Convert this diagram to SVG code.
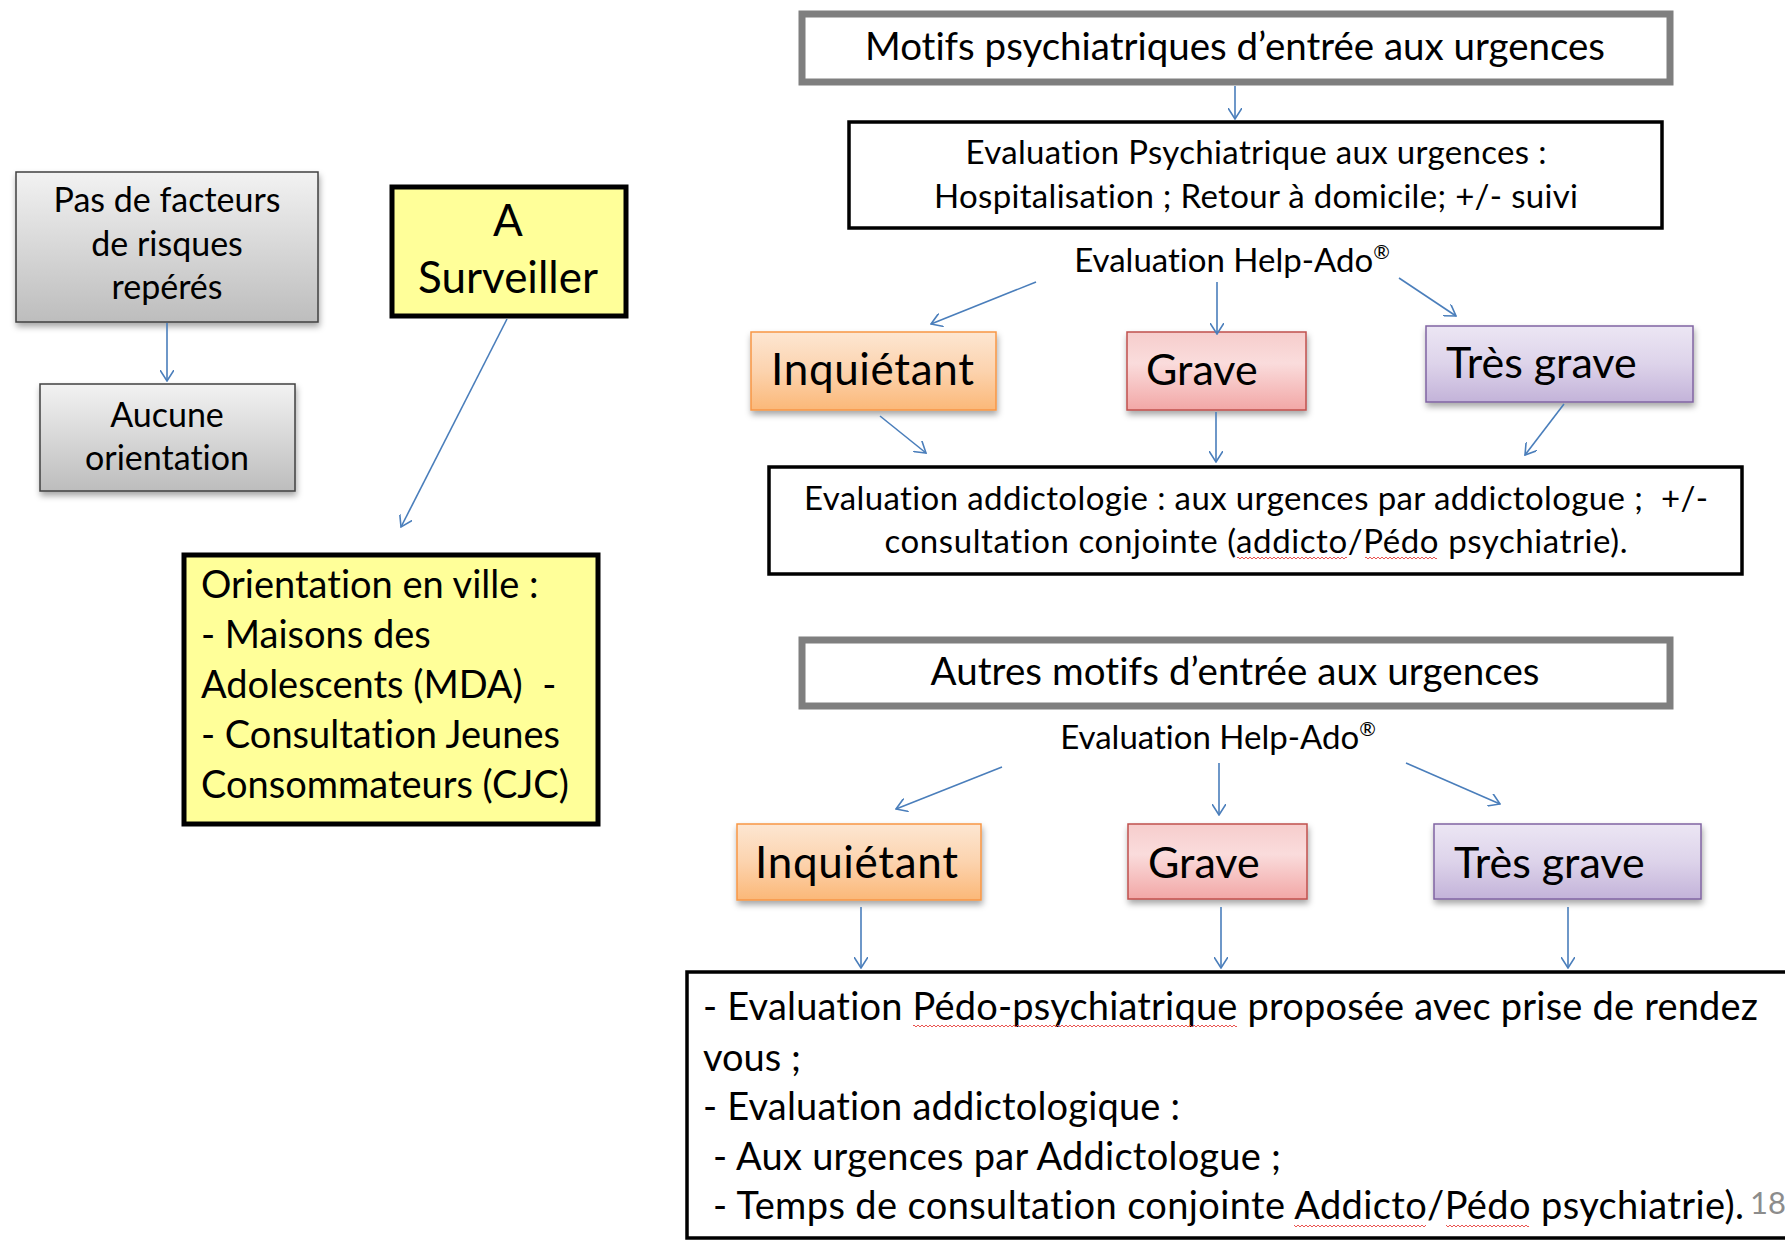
<svg xmlns="http://www.w3.org/2000/svg" width="1785" height="1241" viewBox="0 0 1785 1241">
<defs>
<style>
text{font-family:Lato,"Liberation Sans",sans-serif;fill:#000;font-variant-ligatures:none}
.c{text-anchor:middle}
.conn line{stroke:#4a7ebb;stroke-width:1.6;fill:none;marker-end:url(#arr)}
.blk{fill:#fff;stroke:#000;stroke-width:3.5}
.gry{fill:#fff;stroke:#7f7f7f;stroke-width:7}
.yel{fill:#ffff99;stroke:#000;stroke-width:5}
.wv{fill:url(#wave)}
</style>
<pattern id="wave" x="0" y="0" width="4" height="4" patternUnits="userSpaceOnUse">
<path d="M0,3 L2,1 L4,3" fill="none" stroke="#e8413c" stroke-width="0.9"/>
</pattern>
<marker id="arr" viewBox="0 0 12 14" markerWidth="12" markerHeight="14" refX="11" refY="7" orient="auto" markerUnits="userSpaceOnUse">
<path d="M0,0 L11,7 L0,14" fill="none" stroke="#4a7ebb" stroke-width="1.6"/>
</marker>
<linearGradient id="gGray" x1="0" y1="0" x2="0" y2="1"><stop offset="0" stop-color="#f2f2f2"/><stop offset="1" stop-color="#bdbdbd"/></linearGradient>
<linearGradient id="gOr" x1="0" y1="0" x2="0" y2="1"><stop offset="0" stop-color="#fde6d2"/><stop offset="0.5" stop-color="#fcd3ae"/><stop offset="1" stop-color="#fbb878"/></linearGradient>
<linearGradient id="gRed" x1="0" y1="0" x2="0" y2="1"><stop offset="0" stop-color="#f6cdcc"/><stop offset="0.4" stop-color="#fadcdc"/><stop offset="1" stop-color="#f2a7a6"/></linearGradient>
<linearGradient id="gPur" x1="0" y1="0" x2="0" y2="1"><stop offset="0" stop-color="#ece6f4"/><stop offset="0.5" stop-color="#ddd3ea"/><stop offset="1" stop-color="#c3b3d9"/></linearGradient>
<filter id="sh" x="-10%" y="-10%" width="130%" height="140%"><feDropShadow dx="1" dy="4" stdDeviation="3" flood-color="#000" flood-opacity="0.35"/></filter>
</defs>
<rect width="1785" height="1241" fill="#fff"/>

<g id="pas-de-facteurs">
<rect x="16" y="172" width="302" height="150" fill="url(#gGray)" stroke="#404040" stroke-width="1.5" filter="url(#sh)"/>
<text class="c" x="167" y="212" font-size="34">Pas de facteurs</text>
<text class="c" x="167" y="256" font-size="34">de risques</text>
<text class="c" x="167" y="299" font-size="34">repérés</text>
</g>

<g id="aucune-orientation">
<rect x="40" y="384" width="255" height="107" fill="url(#gGray)" stroke="#404040" stroke-width="1.5" filter="url(#sh)"/>
<text class="c" x="167" y="427" font-size="34">Aucune</text>
<text class="c" x="167" y="470" font-size="34">orientation</text>
</g>

<g id="a-surveiller">
<rect x="392" y="187" width="234" height="129" class="yel"/>
<text class="c" x="508" y="236" font-size="44">A</text>
<text class="c" x="508" y="293" font-size="44">Surveiller</text>
</g>

<g id="orientation-ville">
<rect x="184" y="555" width="414" height="269" class="yel"/>
<text x="201" y="598" font-size="38">Orientation en ville :</text>
<text x="201" y="648" font-size="38">- Maisons des</text>
<text x="201" y="698" font-size="38" xml:space="preserve">Adolescents (MDA)  -</text>
<text x="201" y="748" font-size="38">- Consultation Jeunes</text>
<text x="201" y="798" font-size="38">Consommateurs (CJC)</text>
</g>

<g id="motifs-psy">
<rect x="802" y="14" width="868" height="68" class="gry"/>
<text class="c" x="1235" y="60" font-size="38.5" textLength="740">Motifs psychiatriques d’entrée aux urgences</text>
</g>

<g id="eval-psy">
<rect x="849" y="122" width="813" height="106" class="blk"/>
<text class="c" x="1256" y="164" font-size="33" textLength="581">Evaluation Psychiatrique aux urgences :</text>
<text class="c" x="1256" y="208" font-size="33" textLength="644">Hospitalisation ; Retour à domicile; +/- suivi</text>
</g>

<g id="help-ado-1">
<text class="c" x="1232" y="272" font-size="33">Evaluation Help-Ado<tspan font-size="20" dy="-13">®</tspan></text>
</g>

<g id="inquietant-1">
<rect x="751" y="332" width="245" height="78" fill="url(#gOr)" stroke="#f79646" stroke-width="1.5" filter="url(#sh)"/>
<text x="771" y="385" font-size="44" textLength="203">Inquiétant</text>
</g>
<g id="grave-1">
<rect x="1127" y="332" width="179" height="78" fill="url(#gRed)" stroke="#c0504d" stroke-width="1.5" filter="url(#sh)"/>
<text x="1146" y="385" font-size="43">Grave</text>
</g>
<g id="tres-grave-1">
<rect x="1426" y="326" width="267" height="76" fill="url(#gPur)" stroke="#8064a2" stroke-width="1.5" filter="url(#sh)"/>
<text x="1446" y="378" font-size="43">Très grave</text>
</g>

<g id="eval-addicto">
<rect x="769" y="467" width="973" height="107" class="blk"/>
<text class="c" x="1256" y="510" font-size="33" textLength="904" xml:space="preserve">Evaluation addictologie : aux urgences par addictologue ;  +/-</text>
<text class="c" x="1256" y="553" font-size="33" textLength="743">consultation conjointe (addicto/Pédo psychiatrie).</text>
<rect class="wv" x="1237" y="556" width="110" height="4"/>
<rect class="wv" x="1365" y="556" width="72" height="4"/>
</g>

<g id="autres-motifs">
<rect x="802" y="640" width="868" height="66" class="gry"/>
<text class="c" x="1235" y="685" font-size="38.5" textLength="609">Autres motifs d’entrée aux urgences</text>
</g>

<g id="help-ado-2">
<text class="c" x="1218" y="749" font-size="33">Evaluation Help-Ado<tspan font-size="20" dy="-13">®</tspan></text>
</g>

<g id="inquietant-2">
<rect x="737" y="824" width="244" height="76" fill="url(#gOr)" stroke="#f79646" stroke-width="1.5" filter="url(#sh)"/>
<text x="755" y="878" font-size="44" textLength="203">Inquiétant</text>
</g>
<g id="grave-2">
<rect x="1128" y="824" width="179" height="75" fill="url(#gRed)" stroke="#c0504d" stroke-width="1.5" filter="url(#sh)"/>
<text x="1148" y="878" font-size="43">Grave</text>
</g>
<g id="tres-grave-2">
<rect x="1434" y="824" width="267" height="75" fill="url(#gPur)" stroke="#8064a2" stroke-width="1.5" filter="url(#sh)"/>
<text x="1454" y="878" font-size="43">Très grave</text>
</g>

<g id="orientation-finale">
<rect x="687" y="972" width="1110" height="266" class="blk" stroke-width="4"/>
<text x="703" y="1020" font-size="38" textLength="1055">- Evaluation Pédo-psychiatrique proposée avec prise de rendez</text>
<rect class="wv" x="913" y="1024" width="324" height="4"/>
<text x="703" y="1071" font-size="38">vous ;</text>
<text x="703" y="1120" font-size="38" textLength="477">- Evaluation addictologique :</text>
<text x="713" y="1170" font-size="38" textLength="568">- Aux urgences par Addictologue ;</text>
<text x="713" y="1219" font-size="38" textLength="1031">- Temps de consultation conjointe Addicto/Pédo psychiatrie).</text>
<rect class="wv" x="1294" y="1223" width="132" height="4"/>
<rect class="wv" x="1446" y="1223" width="83" height="4"/>
<text x="1750" y="1214" font-size="31" style="fill:#8c8c8c">18</text>
</g>

<g id="connectors" class="conn">
<line x1="167" y1="323" x2="167" y2="381"/>
<line x1="507" y1="319" x2="401" y2="527"/>
<line x1="1235" y1="86" x2="1235" y2="119"/>
<line x1="1036" y1="282" x2="931" y2="324"/>
<line x1="1217" y1="282" x2="1217" y2="334"/>
<line x1="1399" y1="278" x2="1456" y2="316"/>
<line x1="880" y1="416" x2="926" y2="453"/>
<line x1="1216" y1="412" x2="1216" y2="462"/>
<line x1="1564" y1="404" x2="1525" y2="455"/>
<line x1="1002" y1="767" x2="896" y2="809"/>
<line x1="1219" y1="763" x2="1219" y2="815"/>
<line x1="1406" y1="763" x2="1500" y2="804"/>
<line x1="861" y1="907" x2="861" y2="968"/>
<line x1="1221" y1="907" x2="1221" y2="968"/>
<line x1="1568" y1="907" x2="1568" y2="968"/>
</g>
</svg>
